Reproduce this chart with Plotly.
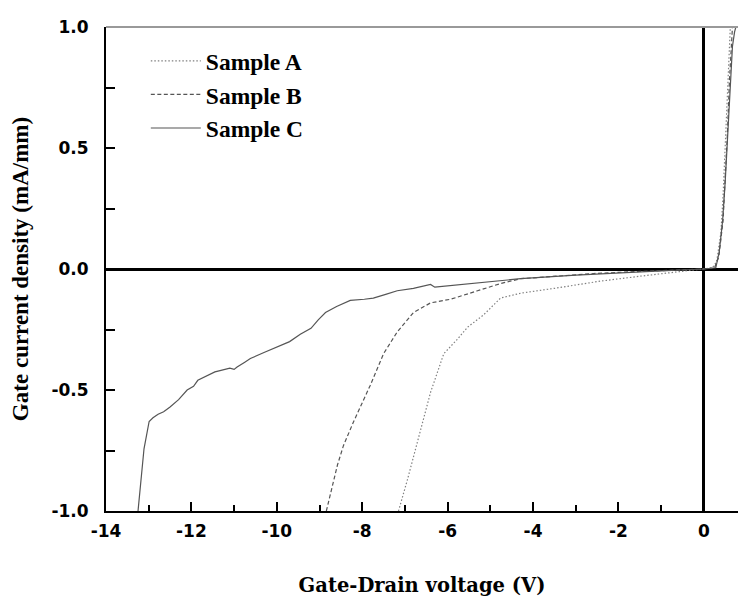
import plotly.graph_objects as go

# Sample A (dotted)
va = [-7.15, -6.94, -6.64, -6.40, -6.09, -5.77, -5.53, -5.16, -4.76, -4.29, -3.5, -2.42, -1.5, -0.54, 0.0,
      0.2, 0.3, 0.4, 0.45, 0.5, 0.55, 0.6, 0.62]
ia = [-1.0, -0.87, -0.67, -0.51, -0.35, -0.29, -0.24, -0.19, -0.12, -0.10, -0.08, -0.05, -0.03, -0.012, 0.0,
      0.005, 0.03, 0.15, 0.30, 0.50, 0.72, 0.92, 1.0]

# Sample B (dashed)
vb = [-8.84, -8.58, -8.44, -8.20, -7.81, -7.50, -7.18, -6.80, -6.40, -5.93, -5.30, -4.76, -4.29, -3.5, -2.5,
      -1.5, 0.0, 0.25, 0.35, 0.45, 0.5, 0.55, 0.6, 0.64, 0.67]
ib = [-1.0, -0.81, -0.73, -0.63, -0.48, -0.35, -0.26, -0.18, -0.14, -0.125, -0.09, -0.06, -0.04, -0.03, -0.018,
      -0.01, 0.0, 0.005, 0.05, 0.2, 0.36, 0.55, 0.78, 0.93, 1.0]

# Sample C (solid)
vc = [-13.25, -13.11, -12.99, -12.9, -12.78, -12.65, -12.5, -12.3, -12.1, -11.95, -11.85, -11.63, -11.45,
      -11.33, -11.1, -11.0, -10.93, -10.75, -10.62, -10.3, -9.99, -9.7, -9.45, -9.2, -9.03, -8.86, -8.6,
      -8.28, -7.95, -7.74, -7.45, -7.18, -6.8, -6.55, -6.40, -6.3, -5.9, -5.53, -4.9, -4.29, -3.0, -2.0,
      -1.0, 0.0, 0.28, 0.36, 0.44, 0.5, 0.56, 0.62, 0.67, 0.72, 0.75]
ic = [-1.0, -0.743, -0.63, -0.615, -0.60, -0.59, -0.57, -0.54, -0.50, -0.485, -0.46, -0.44, -0.425,
      -0.42, -0.41, -0.415, -0.405, -0.385, -0.37, -0.345, -0.32, -0.3, -0.27, -0.245, -0.21, -0.18, -0.155,
      -0.13, -0.125, -0.12, -0.105, -0.09, -0.08, -0.07, -0.064, -0.075, -0.068, -0.06, -0.05, -0.04, -0.025,
      -0.015, -0.008, 0.0, 0.005, 0.07, 0.2, 0.36, 0.58, 0.8, 0.92, 0.98, 1.0]

names = ["Sample A", "Sample B", "Sample C"]
xticks = [-14, -12, -10, -8, -6, -4, -2, 0]
yticks = [-1.0, -0.5, 0.0, 0.5, 1.0]
yticklabels = ["-1.0", "-0.5", "0.0", "0.5", "1.0"]

fig = go.Figure()
fig.add_trace(go.Scatter(x=va, y=ia, mode="lines", name=names[0],
                         line=dict(color="#808080", width=1.2, dash="1.5px,2px")))
fig.add_trace(go.Scatter(x=vb, y=ib, mode="lines", name=names[1],
                         line=dict(color="#555555", width=1.2, dash="4px,2.5px")))
fig.add_trace(go.Scatter(x=vc, y=ic, mode="lines", name=names[2],
                         line=dict(color="#555555", width=1.2)))

tickfont = dict(family="DejaVu Sans", size=17, color="black", weight="bold")
xtitlefont = dict(family="DejaVu Serif", size=19.5, color="black", weight="bold")
ytitlefont = dict(family="Liberation Serif, Times New Roman", size=23, color="black", weight="bold")

fig.update_layout(
    width=738, height=599,
    margin=dict(l=106, r=0, t=27, b=88),
    plot_bgcolor="white", paper_bgcolor="white",
    showlegend=True,
    legend=dict(x=0.063, y=0.975, xanchor="left", yanchor="top",
                bgcolor="rgba(0,0,0,0)",
                font=dict(family="Liberation Serif, Times New Roman", size=23.5, color="black", weight="bold"),
                itemwidth=50, tracegroupgap=0),
    xaxis=dict(range=[-14, 0.8], tickvals=xticks, ticktext=[str(v) for v in xticks],
               ticks="inside", ticklen=9, tickwidth=2, tickcolor="black",
               minor=dict(dtick=1, ticks="inside", ticklen=6, tickwidth=2, tickcolor="black"),
               showline=True, linecolor="black", linewidth=2,
               showgrid=False, zeroline=True, zerolinecolor="black", zerolinewidth=3,
               tickfont=tickfont, ticklabelstandoff=4,
               title=dict(text="Gate-Drain voltage (V)", font=xtitlefont, standoff=38)),
    yaxis=dict(range=[-1.0, 1.0], tickvals=yticks, ticktext=yticklabels,
               ticks="inside", ticklen=9, tickwidth=2, tickcolor="black",
               minor=dict(dtick=0.25, tick0=0, ticks="inside", ticklen=9, tickwidth=2, tickcolor="black"),
               showline=True, linecolor="black", linewidth=2,
               showgrid=False, zeroline=True, zerolinecolor="black", zerolinewidth=3,
               tickfont=tickfont, ticklabelstandoff=12,
               title=dict(text="Gate current density (mA/mm)", font=ytitlefont, standoff=16)),
    shapes=[dict(type="line", xref="paper", yref="paper", x0=0, x1=1, y0=1, y1=1,
                 line=dict(color="#999999", width=2))],
)

fig.write_html("out.html")
